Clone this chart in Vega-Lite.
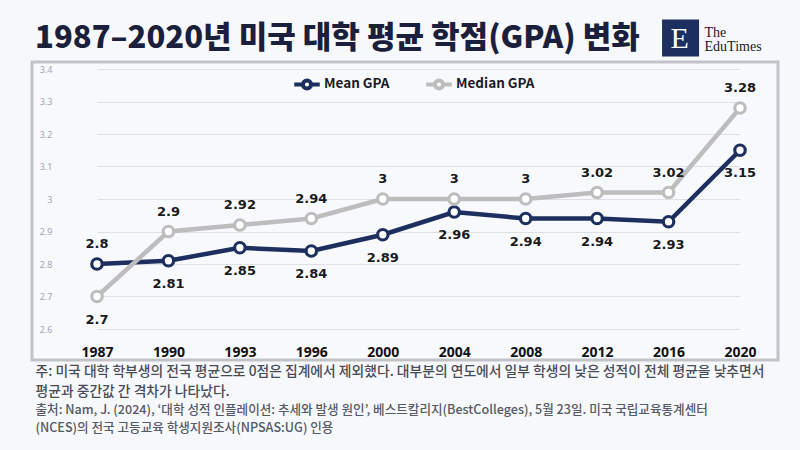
{
  "$schema": "https://vega.github.io/schema/vega-lite/v6.json",
  "autosize": {"type": "none"},
  "width": 746,
  "height": 298,
  "padding": {"left": 32, "top": 62, "right": 22, "bottom": 90},
  "background": "#f7f8fc",
  "title": {
    "text": "1987–2020년 미국 대학 평균 학점(GPA) 변화",
    "anchor": "start",
    "frame": "group",
    "dx": 3,
    "offset": -35,
    "font": "Noto Sans CJK KR",
    "fontSize": 31,
    "fontWeight": 900,
    "color": "#1b1f3b"
  },
  "data": {
    "values": [
      {"year": "1987", "series": "Mean GPA", "gpa": 2.8},
      {"year": "1990", "series": "Mean GPA", "gpa": 2.81},
      {"year": "1993", "series": "Mean GPA", "gpa": 2.85},
      {"year": "1996", "series": "Mean GPA", "gpa": 2.84},
      {"year": "2000", "series": "Mean GPA", "gpa": 2.89},
      {"year": "2004", "series": "Mean GPA", "gpa": 2.96},
      {"year": "2008", "series": "Mean GPA", "gpa": 2.94},
      {"year": "2012", "series": "Mean GPA", "gpa": 2.94},
      {"year": "2016", "series": "Mean GPA", "gpa": 2.93},
      {"year": "2020", "series": "Mean GPA", "gpa": 3.15},
      {"year": "1987", "series": "Median GPA", "gpa": 2.7},
      {"year": "1990", "series": "Median GPA", "gpa": 2.9},
      {"year": "1993", "series": "Median GPA", "gpa": 2.92},
      {"year": "1996", "series": "Median GPA", "gpa": 2.94},
      {"year": "2000", "series": "Median GPA", "gpa": 3.0},
      {"year": "2004", "series": "Median GPA", "gpa": 3.0},
      {"year": "2008", "series": "Median GPA", "gpa": 3.0},
      {"year": "2012", "series": "Median GPA", "gpa": 3.02},
      {"year": "2016", "series": "Median GPA", "gpa": 3.02},
      {"year": "2020", "series": "Median GPA", "gpa": 3.28}
    ]
  },
  "encoding": {
    "x": {
      "field": "year",
      "type": "ordinal",
      "scale": {"type": "point", "range": [65, 708], "padding": 0},
      "axis": {
        "orient": "bottom",
        "offset": -18,
        "labelPadding": 3,
        "labelAngle": 0,
        "labelFont": "Noto Sans",
        "labelFontSize": 14,
        "labelFontWeight": "bold",
        "labelColor": "#111111",
        "domain": false,
        "ticks": false,
        "grid": false,
        "title": [
          "주: 미국 대학 학부생의 전국 평균으로 0점은 집계에서 제외했다. 대부분의 연도에서 일부 학생의 낮은 성적이 전체 평균을 낮추면서",
          "평균과 중간값 간 격차가 나타났다."
        ],
        "titleAnchor": "start",
        "titleAlign": "left",
        "titleBaseline": "top",
        "titleX": 3,
        "titlePadding": 5,
        "titleFont": "Noto Sans CJK KR",
        "titleFontSize": 13.8,
        "titleFontWeight": 500,
        "titleLineHeight": 20,
        "titleColor": "#474c57"
      }
    },
    "y": {
      "field": "gpa",
      "type": "quantitative",
      "scale": {"domain": [2.6, 3.4], "range": [267, 7], "zero": false},
      "axis": {
        "orient": "left",
        "offset": -24,
        "values": [2.6, 2.7, 2.8, 2.9, 3.0, 3.1, 3.2, 3.3, 3.4],
        "format": ".2~f",
        "labelFont": "Noto Sans",
        "labelFontSize": 9,
        "labelColor": "#a3a5ad",
        "labelPadding": 4,
        "domain": false,
        "ticks": false,
        "grid": true,
        "gridColor": "#dfe0e4",
        "gridWidth": 1,
        "title": [
          "출처: Nam, J. (2024), ‘대학 성적 인플레이션: 추세와 발생 원인’, 베스트칼리지(BestColleges), 5월 23일. 미국 국립교육통계센터",
          "(NCES)의 전국 고등교육 학생지원조사(NPSAS:UG) 인용"
        ],
        "titleAngle": 0,
        "titleAlign": "left",
        "titleBaseline": "top",
        "titleX": -21,
        "titleY": 341,
        "titleFont": "Noto Sans CJK KR",
        "titleFontSize": 12.6,
        "titleFontWeight": 500,
        "titleLineHeight": 18,
        "titleColor": "#555a64"
      }
    },
    "color": {
      "field": "series",
      "type": "nominal",
      "scale": {"domain": ["Mean GPA", "Median GPA"], "range": ["#1c2f5f", "#bdbdbd"]},
      "legend": {
        "title": null,
        "orient": "none",
        "direction": "horizontal",
        "legendX": 260,
        "legendY": 7,
        "symbolType": "M -1 0 H -0.32 M 0.32 0 H 1 M -0.32 0 A 0.32 0.32 0 1 1 0.32 0 A 0.32 0.32 0 1 1 -0.32 0",
        "symbolSize": 650,
        "symbolStrokeWidth": 4,
        "symbolFillColor": "#ffffff",
        "symbolOpacity": 1,
        "labelFont": "Noto Sans CJK KR",
        "labelFontSize": 13.5,
        "labelFontWeight": "bold",
        "labelColor": "#1a1a2a",
        "labelOffset": 2,
        "columnPadding": 28
      }
    }
  },
  "layer": [
    {
      "mark": {"type": "line", "strokeWidth": 4.5}
    },
    {
      "mark": {"type": "point", "shape": "circle", "filled": false, "fill": "#ffffff", "fillOpacity": 1, "opacity": 1, "size": 110, "strokeWidth": 3.2}
    },
    {
      "transform": [
        {"filter": "(datum.series == 'Mean GPA' && datum.year != '1987') || (datum.series == 'Median GPA' && datum.year == '1987')"}
      ],
      "mark": {"type": "text", "dy": 23, "font": "DejaVu Sans", "fontSize": 13, "fontWeight": "bold"},
      "encoding": {
        "text": {"field": "gpa", "type": "quantitative", "format": ".2~f"},
        "color": {"value": "#1a1a1a"}
      }
    },
    {
      "transform": [
        {"filter": "(datum.series == 'Median GPA' && datum.year != '1987') || (datum.series == 'Mean GPA' && datum.year == '1987')"}
      ],
      "mark": {"type": "text", "dy": -20, "font": "DejaVu Sans", "fontSize": 13, "fontWeight": "bold"},
      "encoding": {
        "text": {"field": "gpa", "type": "quantitative", "format": ".2~f"},
        "color": {"value": "#1a1a1a"}
      }
    },
    {
      "transform": [{"filter": "datum.year == '2016' && datum.series == 'Mean GPA'"}],
      "mark": {"type": "point", "shape": "square", "filled": true, "size": 1369, "opacity": 1, "xOffset": 12, "yOffset": -31, "clip": false},
      "encoding": {
        "x": {"datum": "2016", "type": "ordinal"},
        "y": {"datum": 3.4, "type": "quantitative"},
        "color": {"value": "#1c2f5f"}
      }
    },
    {
      "transform": [{"filter": "datum.year == '2016' && datum.series == 'Mean GPA'"}],
      "mark": {"type": "text", "text": "E", "font": "Liberation Serif", "fontSize": 30, "dx": 11, "dy": -30, "clip": false},
      "encoding": {
        "x": {"datum": "2016", "type": "ordinal"},
        "y": {"datum": 3.4, "type": "quantitative"},
        "color": {"value": "#ffffff"}
      }
    },
    {
      "transform": [{"filter": "datum.year == '2016' && datum.series == 'Mean GPA'"}],
      "mark": {"type": "text", "text": ["The", "EduTimes"], "font": "Liberation Serif", "fontSize": 14, "lineHeight": 14, "align": "left", "dx": 36, "dy": -36, "clip": false},
      "encoding": {
        "x": {"datum": "2016", "type": "ordinal"},
        "y": {"datum": 3.4, "type": "quantitative"},
        "color": {"value": "#1a1a1a"}
      }
    }
  ],
  "config": {
    "view": {"stroke": "#c2c3c8", "strokeWidth": 3, "fill": "#f8f9fd"}
  }
}
